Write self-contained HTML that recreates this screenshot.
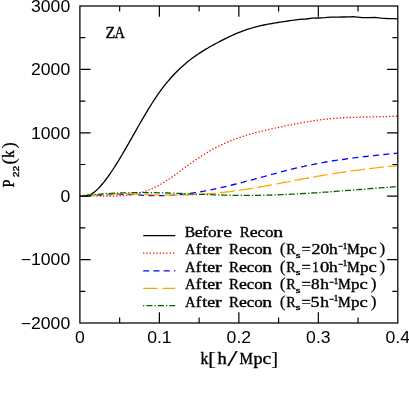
<!DOCTYPE html>
<html><head><meta charset="utf-8">
<style>
html,body{margin:0;padding:0;background:#fff;}
body{width:409px;height:403px;overflow:hidden;}
svg{display:block;}
.tk text{font-family:"Liberation Sans",sans-serif;font-size:15.8px;fill:#000;}
.sf text{font-family:"Liberation Serif",serif;fill:#000;stroke:#000;stroke-width:0.36px;}
</style></head><body>
<svg width="409" height="403" viewBox="0 0 409 403" style="will-change:transform">
<rect width="409" height="403" fill="#fff"/>
<g fill="none" stroke-width="1.3" stroke-linejoin="round">
<path d="M79.9,195.8 L81.9,196.1 L83.9,196.1 L85.9,196.0 L87.9,195.5 L89.9,194.8 L91.9,193.8 L93.9,192.4 L95.9,190.8 L97.9,188.9 L99.9,186.8 L101.9,184.5 L103.9,182.1 L105.9,179.5 L107.9,176.8 L109.9,174.0 L111.9,171.0 L113.9,168.0 L115.9,164.8 L117.9,161.6 L119.9,158.3 L121.9,155.0 L123.9,151.6 L125.9,148.1 L127.9,144.7 L129.9,141.1 L131.9,137.6 L133.9,134.1 L135.9,130.6 L137.9,127.0 L139.9,123.5 L141.9,120.1 L143.9,116.6 L145.9,113.3 L147.9,109.9 L149.9,106.7 L151.9,103.5 L153.9,100.3 L155.9,97.3 L157.9,94.4 L159.9,91.6 L161.9,88.9 L163.9,86.2 L165.9,83.7 L167.9,81.3 L169.9,79.0 L171.9,76.7 L173.9,74.5 L175.9,72.5 L177.9,70.5 L179.9,68.5 L181.9,66.7 L183.9,64.9 L185.9,63.2 L187.9,61.5 L189.9,60.0 L191.9,58.4 L193.9,57.0 L195.9,55.6 L197.9,54.2 L199.9,52.9 L201.9,51.6 L203.9,50.4 L205.9,49.1 L207.9,48.0 L209.9,46.8 L211.9,45.7 L213.9,44.6 L215.9,43.5 L217.9,42.5 L219.9,41.4 L221.9,40.4 L223.9,39.4 L225.9,38.4 L227.9,37.4 L229.9,36.4 L231.9,35.5 L233.9,34.6 L235.9,33.7 L237.9,32.9 L239.9,32.1 L241.9,31.3 L243.9,30.6 L245.9,29.9 L247.9,29.2 L249.9,28.6 L251.9,28.0 L253.9,27.4 L255.9,26.9 L257.9,26.4 L259.9,25.9 L261.9,25.4 L263.9,25.0 L265.9,24.6 L267.9,24.2 L269.9,23.8 L271.9,23.5 L273.9,23.1 L275.9,22.8 L277.9,22.5 L279.9,22.2 L281.9,21.9 L283.9,21.6 L285.9,21.3 L287.9,21.0 L289.9,20.7 L291.9,20.4 L293.9,20.2 L295.9,19.9 L297.9,19.6 L299.3,19.4 L306.2,19.0 L312.4,18.2 L318.6,18.0 L324.8,17.7 L331.0,17.1 L337.2,17.1 L343.4,17.0 L350.0,16.9 L352.5,16.6 L357.4,17.1 L362.4,17.7 L368.6,17.7 L374.8,17.4 L381.0,18.1 L387.2,18.5 L393.4,18.7 L397.8,18.9" stroke="#000"/>
<path d="M79.9,195.8 L81.9,195.8 L83.9,195.7 L85.9,195.8 L87.9,195.8 L89.9,195.8 L91.9,195.8 L93.9,195.9 L95.9,195.9 L97.9,196.0 L99.9,196.0 L101.9,196.1 L103.9,196.1 L105.9,196.1 L107.9,196.1 L109.9,196.1 L111.9,196.1 L113.9,196.1 L115.9,196.0 L117.9,196.0 L119.9,195.9 L121.9,195.7 L123.9,195.6 L125.9,195.4 L127.9,195.1 L129.9,194.9 L131.9,194.6 L133.9,194.2 L135.9,193.8 L137.9,193.3 L139.9,192.8 L141.9,192.3 L143.9,191.7 L145.9,191.0 L147.9,190.2 L149.9,189.5 L151.9,188.6 L153.9,187.7 L155.9,186.7 L157.9,185.7 L159.9,184.6 L161.9,183.5 L163.9,182.3 L165.9,181.1 L167.9,179.8 L169.9,178.5 L171.9,177.1 L173.9,175.7 L175.9,174.2 L177.9,172.8 L179.9,171.3 L181.9,169.8 L183.9,168.3 L185.9,166.8 L187.9,165.4 L189.9,163.9 L191.9,162.5 L193.9,161.1 L195.9,159.7 L197.9,158.4 L199.9,157.0 L201.9,155.7 L203.9,154.5 L205.9,153.3 L207.9,152.0 L209.9,150.9 L211.9,149.7 L213.9,148.6 L215.9,147.6 L217.9,146.6 L219.9,145.6 L221.9,144.6 L223.9,143.7 L225.9,142.8 L227.9,141.9 L229.9,141.1 L231.9,140.3 L233.9,139.5 L235.9,138.8 L237.9,138.1 L239.9,137.4 L241.9,136.7 L243.9,136.1 L245.9,135.4 L247.9,134.8 L249.9,134.2 L251.9,133.7 L253.9,133.1 L255.9,132.6 L257.9,132.1 L259.9,131.6 L261.9,131.1 L263.9,130.6 L265.9,130.1 L267.9,129.7 L269.9,129.2 L271.9,128.8 L273.9,128.3 L275.9,127.9 L277.9,127.5 L279.9,127.1 L281.9,126.6 L283.9,126.2 L285.9,125.8 L287.9,125.4 L289.9,125.0 L291.9,124.6 L293.9,124.2 L295.9,123.8 L297.9,123.5 L299.9,123.1 L301.9,122.7 L303.9,122.4 L305.9,122.0 L307.9,121.7 L309.9,121.4 L311.9,121.1 L313.9,120.7 L315.9,120.5 L317.9,120.2 L319.9,119.9 L321.9,119.6 L323.9,119.4 L325.9,119.2 L327.9,119.0 L329.9,118.8 L331.9,118.6 L333.9,118.4 L335.9,118.2 L337.9,118.1 L339.9,118.0 L341.9,117.8 L343.9,117.7 L345.9,117.6 L347.9,117.5 L349.9,117.5 L351.9,117.4 L353.9,117.3 L355.9,117.3 L357.9,117.2 L359.9,117.1 L361.9,117.1 L363.9,117.0 L365.9,117.0 L367.9,117.0 L369.9,116.9 L371.9,116.9 L373.9,116.8 L375.9,116.8 L377.9,116.8 L379.9,116.7 L381.9,116.7 L383.9,116.6 L385.9,116.6 L387.9,116.5 L389.9,116.4 L391.9,116.4 L393.9,116.3 L395.9,116.2 L397.8,116.1" stroke="#f00" stroke-dasharray="1.3 2.0" />
<path d="M79.9,195.8 L81.9,195.8 L83.9,195.8 L85.9,195.7 L87.9,195.7 L89.9,195.6 L91.9,195.5 L93.9,195.4 L95.9,195.3 L97.9,195.2 L99.9,195.1 L101.9,195.0 L103.9,194.9 L105.9,194.8 L107.9,194.7 L109.9,194.6 L111.9,194.5 L113.9,194.4 L115.9,194.3 L117.9,194.3 L119.9,194.3 L121.9,194.3 L123.9,194.3 L125.9,194.4 L127.9,194.4 L129.9,194.5 L131.9,194.6 L133.9,194.7 L135.9,194.8 L137.9,194.9 L139.9,195.0 L141.9,195.2 L143.9,195.3 L145.9,195.4 L147.9,195.5 L149.9,195.5 L151.9,195.6 L153.9,195.7 L155.9,195.7 L157.9,195.7 L159.9,195.7 L161.9,195.7 L163.9,195.6 L165.9,195.6 L167.9,195.5 L169.9,195.4 L171.9,195.3 L173.9,195.1 L175.9,195.0 L177.9,194.8 L179.9,194.6 L181.9,194.4 L183.9,194.2 L185.9,194.0 L187.9,193.7 L189.9,193.4 L191.9,193.1 L193.9,192.8 L195.9,192.5 L197.9,192.2 L199.9,191.9 L201.9,191.5 L203.9,191.2 L205.9,190.8 L207.9,190.4 L209.9,190.0 L211.9,189.6 L213.9,189.2 L215.9,188.7 L217.9,188.3 L219.9,187.9 L221.9,187.4 L223.9,186.9 L225.9,186.5 L227.9,186.0 L229.9,185.5 L231.9,185.0 L233.9,184.5 L235.9,184.0 L237.9,183.5 L239.9,183.0 L241.9,182.5 L243.9,181.9 L245.9,181.4 L247.9,180.9 L249.9,180.3 L251.9,179.8 L253.9,179.3 L255.9,178.7 L257.9,178.2 L259.9,177.6 L261.9,177.1 L263.9,176.6 L265.9,176.0 L267.9,175.5 L269.9,174.9 L271.9,174.4 L273.9,173.9 L275.9,173.3 L277.9,172.8 L279.9,172.3 L281.9,171.7 L283.9,171.2 L285.9,170.7 L287.9,170.2 L289.9,169.7 L291.9,169.2 L293.9,168.7 L295.9,168.2 L297.9,167.7 L299.9,167.3 L301.9,166.8 L303.9,166.4 L305.9,165.9 L307.9,165.5 L309.9,165.1 L311.9,164.7 L313.9,164.3 L315.9,163.9 L317.9,163.5 L319.9,163.1 L321.9,162.7 L323.9,162.4 L325.9,162.0 L327.9,161.7 L329.9,161.4 L331.9,161.0 L333.9,160.7 L335.9,160.4 L337.9,160.1 L339.9,159.8 L341.9,159.5 L343.9,159.3 L345.9,159.0 L347.9,158.7 L349.9,158.4 L351.9,158.2 L353.9,157.9 L355.9,157.7 L357.9,157.4 L359.9,157.2 L361.9,157.0 L363.9,156.7 L365.9,156.5 L367.9,156.3 L369.9,156.0 L371.9,155.8 L373.9,155.6 L375.9,155.4 L377.9,155.2 L379.9,155.0 L381.9,154.7 L383.9,154.5 L385.9,154.3 L387.9,154.1 L389.9,153.9 L391.9,153.7 L393.9,153.5 L395.9,153.3 L397.8,153.1" stroke="#00f" stroke-dasharray="6.0 4.4" stroke-dashoffset="4.15"/>
<path d="M79.9,195.8 L81.9,195.7 L83.9,195.6 L85.9,195.5 L87.9,195.4 L89.9,195.2 L91.9,195.1 L93.9,195.0 L95.9,194.9 L97.9,194.8 L99.9,194.6 L101.9,194.5 L103.9,194.4 L105.9,194.3 L107.9,194.2 L109.9,194.1 L111.9,194.1 L113.9,194.0 L115.9,193.9 L117.9,193.9 L119.9,193.9 L121.9,193.9 L123.9,193.9 L125.9,193.9 L127.9,193.9 L129.9,193.9 L131.9,194.0 L133.9,194.0 L135.9,194.1 L137.9,194.2 L139.9,194.2 L141.9,194.3 L143.9,194.4 L145.9,194.5 L147.9,194.5 L149.9,194.6 L151.9,194.7 L153.9,194.8 L155.9,194.9 L157.9,194.9 L159.9,195.0 L161.9,195.0 L163.9,195.1 L165.9,195.1 L167.9,195.2 L169.9,195.2 L171.9,195.2 L173.9,195.2 L175.9,195.2 L177.9,195.2 L179.9,195.1 L181.9,195.1 L183.9,195.0 L185.9,195.0 L187.9,194.9 L189.9,194.9 L191.9,194.8 L193.9,194.7 L195.9,194.6 L197.9,194.5 L199.9,194.4 L201.9,194.2 L203.9,194.1 L205.9,193.9 L207.9,193.8 L209.9,193.6 L211.9,193.5 L213.9,193.3 L215.9,193.1 L217.9,192.9 L219.9,192.7 L221.9,192.5 L223.9,192.3 L225.9,192.0 L227.9,191.8 L229.9,191.6 L231.9,191.3 L233.9,191.0 L235.9,190.8 L237.9,190.5 L239.9,190.2 L241.9,189.9 L243.9,189.6 L245.9,189.3 L247.9,189.0 L249.9,188.7 L251.9,188.4 L253.9,188.0 L255.9,187.7 L257.9,187.3 L259.9,187.0 L261.9,186.6 L263.9,186.3 L265.9,185.9 L267.9,185.5 L269.9,185.2 L271.9,184.8 L273.9,184.4 L275.9,184.0 L277.9,183.7 L279.9,183.3 L281.9,182.9 L283.9,182.5 L285.9,182.1 L287.9,181.8 L289.9,181.4 L291.9,181.0 L293.9,180.6 L295.9,180.2 L297.9,179.9 L299.9,179.5 L301.9,179.1 L303.9,178.7 L305.9,178.4 L307.9,178.0 L309.9,177.6 L311.9,177.3 L313.9,176.9 L315.9,176.6 L317.9,176.2 L319.9,175.9 L321.9,175.5 L323.9,175.2 L325.9,174.9 L327.9,174.5 L329.9,174.2 L331.9,173.9 L333.9,173.6 L335.9,173.2 L337.9,172.9 L339.9,172.6 L341.9,172.3 L343.9,172.0 L345.9,171.7 L347.9,171.5 L349.9,171.2 L351.9,170.9 L353.9,170.6 L355.9,170.3 L357.9,170.1 L359.9,169.8 L361.9,169.6 L363.9,169.3 L365.9,169.1 L367.9,168.8 L369.9,168.6 L371.9,168.3 L373.9,168.1 L375.9,167.9 L377.9,167.7 L379.9,167.4 L381.9,167.2 L383.9,167.0 L385.9,166.8 L387.9,166.6 L389.9,166.4 L391.9,166.2 L393.9,166.0 L395.9,165.9 L397.8,165.7" stroke="#ffa500" stroke-dasharray="14.6 4.3" stroke-dashoffset="10.8"/>
<path d="M79.9,195.8 L81.9,195.6 L83.9,195.4 L85.9,195.3 L87.9,195.1 L89.9,194.9 L91.9,194.7 L93.9,194.6 L95.9,194.4 L97.9,194.3 L99.9,194.1 L101.9,194.0 L103.9,193.8 L105.9,193.7 L107.9,193.6 L109.9,193.5 L111.9,193.3 L113.9,193.2 L115.9,193.2 L117.9,193.1 L119.9,193.0 L121.9,192.9 L123.9,192.9 L125.9,192.8 L127.9,192.8 L129.9,192.7 L131.9,192.7 L133.9,192.7 L135.9,192.6 L137.9,192.6 L139.9,192.6 L141.9,192.6 L143.9,192.6 L145.9,192.6 L147.9,192.6 L149.9,192.6 L151.9,192.7 L153.9,192.7 L155.9,192.7 L157.9,192.8 L159.9,192.8 L161.9,192.9 L163.9,192.9 L165.9,193.0 L167.9,193.0 L169.9,193.1 L171.9,193.2 L173.9,193.2 L175.9,193.3 L177.9,193.4 L179.9,193.5 L181.9,193.5 L183.9,193.6 L185.9,193.7 L187.9,193.8 L189.9,193.8 L191.9,193.9 L193.9,194.0 L195.9,194.1 L197.9,194.2 L199.9,194.3 L201.9,194.3 L203.9,194.4 L205.9,194.5 L207.9,194.6 L209.9,194.6 L211.9,194.7 L213.9,194.8 L215.9,194.9 L217.9,194.9 L219.9,195.0 L221.9,195.0 L223.9,195.1 L225.9,195.1 L227.9,195.2 L229.9,195.2 L231.9,195.3 L233.9,195.3 L235.9,195.3 L237.9,195.4 L239.9,195.4 L241.9,195.4 L243.9,195.4 L245.9,195.4 L247.9,195.4 L249.9,195.4 L251.9,195.4 L253.9,195.4 L255.9,195.3 L257.9,195.3 L259.9,195.3 L261.9,195.2 L263.9,195.2 L265.9,195.2 L267.9,195.1 L269.9,195.1 L271.9,195.0 L273.9,194.9 L275.9,194.9 L277.9,194.8 L279.9,194.7 L281.9,194.6 L283.9,194.6 L285.9,194.5 L287.9,194.4 L289.9,194.3 L291.9,194.2 L293.9,194.1 L295.9,194.0 L297.9,193.9 L299.9,193.8 L301.9,193.6 L303.9,193.5 L305.9,193.4 L307.9,193.3 L309.9,193.2 L311.9,193.0 L313.9,192.9 L315.9,192.8 L317.9,192.7 L319.9,192.5 L321.9,192.4 L323.9,192.2 L325.9,192.1 L327.9,192.0 L329.9,191.8 L331.9,191.7 L333.9,191.5 L335.9,191.4 L337.9,191.2 L339.9,191.1 L341.9,190.9 L343.9,190.8 L345.9,190.6 L347.9,190.4 L349.9,190.3 L351.9,190.1 L353.9,190.0 L355.9,189.8 L357.9,189.7 L359.9,189.5 L361.9,189.3 L363.9,189.2 L365.9,189.0 L367.9,188.9 L369.9,188.7 L371.9,188.5 L373.9,188.4 L375.9,188.2 L377.9,188.1 L379.9,187.9 L381.9,187.7 L383.9,187.6 L385.9,187.4 L387.9,187.3 L389.9,187.1 L391.9,187.0 L393.9,186.8 L395.9,186.7 L397.8,186.5" stroke="#006400" stroke-dasharray="1.3 1.85 6.1 2.0" stroke-dashoffset="7.82"/>
</g>
<g fill="none" stroke="#000" stroke-width="1.25">
<rect x="79.9" y="6.0" width="317.90" height="317.00"/>
<path d="M119.64,323.0 v-5.4 M119.64,6.0 v5.4 M159.38,323.0 v-10.7 M159.38,6.0 v10.7 M199.11,323.0 v-5.4 M199.11,6.0 v5.4 M238.85,323.0 v-10.7 M238.85,6.0 v10.7 M278.59,323.0 v-5.4 M278.59,6.0 v5.4 M318.33,323.0 v-10.7 M318.33,6.0 v10.7 M358.06,323.0 v-5.4 M358.06,6.0 v5.4 M79.9,291.30 h5.4 M397.8,291.30 h-5.4 M79.9,259.60 h10.7 M397.8,259.60 h-10.7 M79.9,227.90 h5.4 M397.8,227.90 h-5.4 M79.9,196.20 h10.7 M397.8,196.20 h-10.7 M79.9,164.50 h5.4 M397.8,164.50 h-5.4 M79.9,132.80 h10.7 M397.8,132.80 h-10.7 M79.9,101.10 h5.4 M397.8,101.10 h-5.4 M79.9,69.40 h10.7 M397.8,69.40 h-10.7 M79.9,37.70 h5.4 M397.8,37.70 h-5.4" stroke-width="1.2"/>
</g>
<g class="tk">
<text x="0" y="0" text-anchor="end" transform="translate(70.2,11.70) scale(1.115,1)">3000</text>
<text x="0" y="0" text-anchor="end" transform="translate(70.2,75.10) scale(1.115,1)">2000</text>
<text x="0" y="0" text-anchor="end" transform="translate(70.2,138.50) scale(1.115,1)">1000</text>
<text x="0" y="0" text-anchor="end" transform="translate(70.2,201.90) scale(1.115,1)">0</text>
<text x="0" y="0" text-anchor="end" transform="translate(70.2,265.30) scale(1.115,1)">−1000</text>
<text x="0" y="0" text-anchor="end" transform="translate(70.2,328.70) scale(1.115,1)">−2000</text>
<text x="0" y="0" text-anchor="middle" transform="translate(79.90,342.9) scale(1.115,1)">0</text>
<text x="0" y="0" text-anchor="middle" transform="translate(159.38,342.9) scale(1.115,1)">0.1</text>
<text x="0" y="0" text-anchor="middle" transform="translate(238.85,342.9) scale(1.115,1)">0.2</text>
<text x="0" y="0" text-anchor="middle" transform="translate(318.33,342.9) scale(1.115,1)">0.3</text>
<text x="0" y="0" text-anchor="middle" transform="translate(397.80,342.9) scale(1.115,1)">0.4</text>
</g>
<g fill="none" stroke-width="1.3">
<path d="M143.2,235.7 H175.3" stroke="#000"/>
<path d="M143.05,253.2 H175.3" stroke="#f00" stroke-dasharray="1.3 2.02"/>
<path d="M143.2,270.9 H175.3" stroke="#00f" stroke-dasharray="6.1 4.15"/>
<path d="M143.2,288.4 H175.3" stroke="#ffa500" stroke-dasharray="14.6 4.5"/>
<path d="M143.1,305.6 H175.3" stroke="#006400" stroke-dasharray="1.3 2.1 6.0 2.0"/>
</g>
<g class="sf" font-size="14.4">
<text transform="translate(184.75,236.70) scale(1.084,1)" font-size="14.4">B</text><text transform="translate(194.80,236.70) scale(1.238,1)" font-size="14.4">e</text><text transform="translate(202.25,236.70) scale(1.241,1)" font-size="14.4">f</text><text transform="translate(208.04,236.70) scale(1.196,1)" font-size="14.4">o</text><text transform="translate(216.61,236.70) scale(1.347,1)" font-size="14.4">r</text><text transform="translate(223.33,236.70) scale(1.370,1)" font-size="14.4">e</text>
<text transform="translate(239.77,236.70) scale(1.036,1)" font-size="14.4">R</text><text transform="translate(249.80,236.70) scale(1.238,1)" font-size="14.4">e</text><text transform="translate(257.46,236.70) scale(1.167,1)" font-size="14.4">c</text><text transform="translate(264.95,236.70) scale(1.180,1)" font-size="14.4">o</text><text transform="translate(273.15,236.70) scale(1.368,1)" font-size="14.4">n</text>
<text transform="translate(185.06,254.10) scale(1.014,1)" font-size="14.4">A</text><text transform="translate(195.68,254.10) scale(1.172,1)" font-size="14.4">f</text><text transform="translate(201.91,254.10) scale(1.351,1)" font-size="14.4">t</text><text transform="translate(207.20,254.10) scale(1.238,1)" font-size="14.4">e</text><text transform="translate(214.90,254.10) scale(1.393,1)" font-size="14.4">r</text>
<text transform="translate(228.97,254.10) scale(1.036,1)" font-size="14.4">R</text><text transform="translate(239.00,254.10) scale(1.238,1)" font-size="14.4">e</text><text transform="translate(246.66,254.10) scale(1.167,1)" font-size="14.4">c</text><text transform="translate(254.15,254.10) scale(1.180,1)" font-size="14.4">o</text><text transform="translate(262.35,254.10) scale(1.368,1)" font-size="14.4">n</text>
<text transform="translate(279.81,254.10) scale(1.131,1)" font-size="15.840000000000002" style="stroke-width:0.12px">(</text><text transform="translate(286.19,254.10) scale(0.982,1)" font-size="14.4">R</text><text transform="translate(295.70,257.70) scale(1.626,1)" font-size="7.488">s</text><text transform="translate(301.58,254.10) scale(1.149,1)" font-size="14.4">=</text>
<text transform="translate(311.41,254.10) scale(1.247,1)" font-size="14.4">2</text><text transform="translate(320.32,254.10) scale(1.245,1)" font-size="14.4">0</text>
<text transform="translate(329.03,254.10) scale(1.208,1)" font-size="14.4">h</text><text transform="translate(337.97,249.30) scale(0.963,1)" font-size="8.928">−</text><text transform="translate(342.70,248.70) scale(1.088,1)" font-size="8.352">1</text><text transform="translate(346.89,254.10) scale(0.994,1)" font-size="14.4">M</text><text transform="translate(360.02,254.10) scale(1.186,1)" font-size="14.4">p</text><text transform="translate(368.49,254.10) scale(1.296,1)" font-size="14.4">c</text><text transform="translate(379.31,254.10) scale(1.155,1)" font-size="15.840000000000002" style="stroke-width:0.12px">)</text>
<text transform="translate(185.06,271.80) scale(1.014,1)" font-size="14.4">A</text><text transform="translate(195.68,271.80) scale(1.172,1)" font-size="14.4">f</text><text transform="translate(201.91,271.80) scale(1.351,1)" font-size="14.4">t</text><text transform="translate(207.20,271.80) scale(1.238,1)" font-size="14.4">e</text><text transform="translate(214.90,271.80) scale(1.393,1)" font-size="14.4">r</text>
<text transform="translate(228.97,271.80) scale(1.036,1)" font-size="14.4">R</text><text transform="translate(239.00,271.80) scale(1.238,1)" font-size="14.4">e</text><text transform="translate(246.66,271.80) scale(1.167,1)" font-size="14.4">c</text><text transform="translate(254.15,271.80) scale(1.180,1)" font-size="14.4">o</text><text transform="translate(262.35,271.80) scale(1.368,1)" font-size="14.4">n</text>
<text transform="translate(279.81,271.80) scale(1.131,1)" font-size="15.840000000000002" style="stroke-width:0.12px">(</text><text transform="translate(286.19,271.80) scale(0.982,1)" font-size="14.4">R</text><text transform="translate(295.70,275.40) scale(1.626,1)" font-size="7.488">s</text><text transform="translate(301.58,271.80) scale(1.149,1)" font-size="14.4">=</text>
<text transform="translate(312.23,271.80) scale(0.900,1)" font-size="14.4">1</text><text transform="translate(319.89,271.80) scale(1.294,1)" font-size="14.4">0</text>
<text transform="translate(329.03,271.80) scale(1.208,1)" font-size="14.4">h</text><text transform="translate(337.97,267.00) scale(0.963,1)" font-size="8.928">−</text><text transform="translate(342.70,266.40) scale(1.088,1)" font-size="8.352">1</text><text transform="translate(346.89,271.80) scale(0.994,1)" font-size="14.4">M</text><text transform="translate(360.02,271.80) scale(1.186,1)" font-size="14.4">p</text><text transform="translate(368.49,271.80) scale(1.296,1)" font-size="14.4">c</text><text transform="translate(379.31,271.80) scale(1.155,1)" font-size="15.840000000000002" style="stroke-width:0.12px">)</text>
<text transform="translate(185.06,289.40) scale(1.014,1)" font-size="14.4">A</text><text transform="translate(195.68,289.40) scale(1.172,1)" font-size="14.4">f</text><text transform="translate(201.91,289.40) scale(1.351,1)" font-size="14.4">t</text><text transform="translate(207.20,289.40) scale(1.238,1)" font-size="14.4">e</text><text transform="translate(214.90,289.40) scale(1.393,1)" font-size="14.4">r</text>
<text transform="translate(228.97,289.40) scale(1.036,1)" font-size="14.4">R</text><text transform="translate(239.00,289.40) scale(1.238,1)" font-size="14.4">e</text><text transform="translate(246.66,289.40) scale(1.167,1)" font-size="14.4">c</text><text transform="translate(254.15,289.40) scale(1.180,1)" font-size="14.4">o</text><text transform="translate(262.35,289.40) scale(1.368,1)" font-size="14.4">n</text>
<text transform="translate(279.81,289.40) scale(1.131,1)" font-size="15.840000000000002" style="stroke-width:0.12px">(</text><text transform="translate(286.19,289.40) scale(0.982,1)" font-size="14.4">R</text><text transform="translate(295.70,293.00) scale(1.626,1)" font-size="7.488">s</text><text transform="translate(301.58,289.40) scale(1.149,1)" font-size="14.4">=</text>
<text transform="translate(310.94,289.40) scale(1.196,1)" font-size="14.4">8</text>
<text transform="translate(320.13,289.40) scale(1.208,1)" font-size="14.4">h</text><text transform="translate(329.07,284.60) scale(0.963,1)" font-size="8.928">−</text><text transform="translate(333.80,284.00) scale(1.088,1)" font-size="8.352">1</text><text transform="translate(337.99,289.40) scale(0.994,1)" font-size="14.4">M</text><text transform="translate(351.12,289.40) scale(1.186,1)" font-size="14.4">p</text><text transform="translate(359.59,289.40) scale(1.296,1)" font-size="14.4">c</text><text transform="translate(370.41,289.40) scale(1.155,1)" font-size="15.840000000000002" style="stroke-width:0.12px">)</text>
<text transform="translate(185.06,306.60) scale(1.014,1)" font-size="14.4">A</text><text transform="translate(195.68,306.60) scale(1.172,1)" font-size="14.4">f</text><text transform="translate(201.91,306.60) scale(1.351,1)" font-size="14.4">t</text><text transform="translate(207.20,306.60) scale(1.238,1)" font-size="14.4">e</text><text transform="translate(214.90,306.60) scale(1.393,1)" font-size="14.4">r</text>
<text transform="translate(228.97,306.60) scale(1.036,1)" font-size="14.4">R</text><text transform="translate(239.00,306.60) scale(1.238,1)" font-size="14.4">e</text><text transform="translate(246.66,306.60) scale(1.167,1)" font-size="14.4">c</text><text transform="translate(254.15,306.60) scale(1.180,1)" font-size="14.4">o</text><text transform="translate(262.35,306.60) scale(1.368,1)" font-size="14.4">n</text>
<text transform="translate(279.81,306.60) scale(1.131,1)" font-size="15.840000000000002" style="stroke-width:0.12px">(</text><text transform="translate(286.19,306.60) scale(0.982,1)" font-size="14.4">R</text><text transform="translate(295.70,310.20) scale(1.626,1)" font-size="7.488">s</text><text transform="translate(301.58,306.60) scale(1.149,1)" font-size="14.4">=</text>
<text transform="translate(310.55,306.60) scale(1.258,1)" font-size="14.4">5</text>
<text transform="translate(320.13,306.60) scale(1.208,1)" font-size="14.4">h</text><text transform="translate(329.07,301.80) scale(0.963,1)" font-size="8.928">−</text><text transform="translate(333.80,301.20) scale(1.088,1)" font-size="8.352">1</text><text transform="translate(337.99,306.60) scale(0.994,1)" font-size="14.4">M</text><text transform="translate(351.12,306.60) scale(1.186,1)" font-size="14.4">p</text><text transform="translate(359.59,306.60) scale(1.296,1)" font-size="14.4">c</text><text transform="translate(370.41,306.60) scale(1.155,1)" font-size="15.840000000000002" style="stroke-width:0.12px">)</text>

</g>
<g class="sf" font-size="15.6">
<text transform="translate(200.40,363.80) scale(0.988,1)" font-size="16.0">k</text><text transform="translate(207.63,365.00) scale(1.288,1)" font-size="19.52" style="stroke-width:0.12px">[</text><text transform="translate(217.42,363.80) scale(1.153,1)" font-size="16.0">h</text><text transform="translate(227.30,366.40) scale(1.667,1)" font-size="22.24" style="stroke-width:0.12px">/</text><text transform="translate(239.56,363.80) scale(0.948,1)" font-size="16.0">M</text><text transform="translate(253.41,363.80) scale(1.124,1)" font-size="16.0">p</text><text transform="translate(262.46,363.80) scale(1.217,1)" font-size="16.0">c</text><text transform="translate(271.25,365.00) scale(1.058,1)" font-size="19.52" style="stroke-width:0.12px">]</text>
<text transform="translate(105.44,37.70) scale(0.996,1)" font-size="16.0">Z</text><text transform="translate(114.43,37.70) scale(0.900,1)" font-size="16.0">A</text>
<g transform="translate(13.9,187.2) rotate(-90)"><text transform="translate(-0.32,0.00) scale(0.900,1)" font-size="16.0">P</text><text transform="translate(22.66,0.90) scale(1.046,1)" font-size="18.24" style="stroke-width:0.12px">(</text><text transform="translate(29.52,0.00) scale(0.923,1)" font-size="16.0">k</text><text transform="translate(38.59,0.90) scale(1.046,1)" font-size="18.24" style="stroke-width:0.12px">)</text>
<text transform="translate(10.0,5.4) scale(1.11,1)" font-size="9.4" style="font-family:'Liberation Sans',sans-serif;stroke-width:0.3px">22</text></g>

</g>
</svg>
</body></html>
